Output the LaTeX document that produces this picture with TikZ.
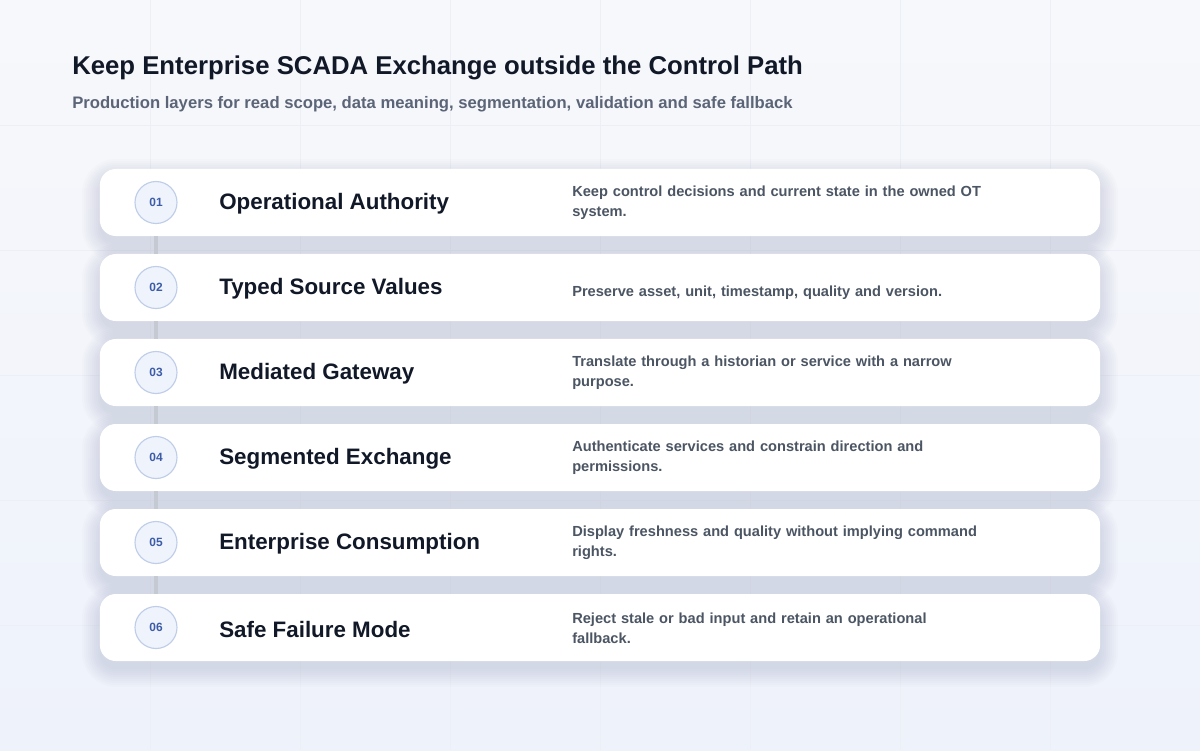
\documentclass[tikz,border=0pt]{standalone}
\usepackage{fontspec}
\setmainfont{Liberation Sans}
\usepackage{tikz}
\usetikzlibrary{calc}
\hyphenpenalty=10000
\exhyphenpenalty=10000

\definecolor{bgtop}{HTML}{F7F8FB}
\definecolor{bgbot}{HTML}{EEF2FB}
\definecolor{gridline}{HTML}{ECEFF5}
\definecolor{shadowcol}{HTML}{2A3450}
\definecolor{ink}{HTML}{111827}
\definecolor{subink}{HTML}{5B6577}
\definecolor{descink}{HTML}{4B5563}
\definecolor{numink}{HTML}{3D5CA8}
\definecolor{numfill}{HTML}{EEF3FC}
\definecolor{numline}{HTML}{BFCDE8}
\definecolor{linkgray}{HTML}{C5C9D1}

\begin{document}
\begin{tikzpicture}[x = 0.025cm, y = -0.025cm,
  layercard/.style = {rectangle, rounded corners = 0.4cm, fill = white,
    draw = none, minimum width = 25cm, minimum height = 1.675cm},
  numdot/.style = {circle, fill = numfill, draw = numline, line width = 0.8pt,
    minimum size = 1.05cm, inner sep = 0pt, text = numink,
    font = \fontsize{8.5}{10}\selectfont\bfseries},
  layertitle/.style = {anchor = west, inner sep = 0pt, text = ink,
    font = \fontsize{15.9}{18}\selectfont\bfseries},
  layertext/.style = {anchor = west, text = descink, text width = 10.4cm,
    align = left, inner sep = 0pt,
    font = \fontsize{10.4}{14.2}\selectfont\bfseries}]
\useasboundingbox (0, 0) rectangle (1200, 750);

% background and faint grid
\shade[top color = bgtop, bottom color = bgbot] (0, 0) rectangle (1200, 750);
\foreach \gx in {150, 300, ..., 1050}
  \draw[gridline, line width = 0.5pt] (\gx, 0) -- (\gx, 750);
\foreach \gy in {125, 250, ..., 625}
  \draw[gridline, line width = 0.5pt] (0, \gy) -- (1200, \gy);

% heading
\node[anchor = west, inner sep = 0pt, text = ink,
  font = \fontsize{18.3}{20}\selectfont\bfseries] (head) at (72, 68)
  {Keep Enterprise SCADA Exchange outside the Control Path};
\node[anchor = west, inner sep = 0pt, text = subink,
  font = \fontsize{11.85}{14}\selectfont\bfseries] (subhead) at (72, 104)
  {Production layers for read scope, data meaning, segmentation, validation and safe fallback};

% soft shadows under the cards
\foreach \i in {1, ..., 6}
  \foreach \k in {0, ..., 9}
    \fill[shadowcol, opacity = 0.011, rounded corners = 0.4cm + \k*0.05cm]
      (100 - 2*\k, 92 + 85*\i - 2*\k) rectangle (1100 + 2*\k, 159 + 85*\i + 2*\k);

% layers
\foreach \i/\dy/\name/\desc in {
  1/1/Operational Authority/Keep control decisions and current state in the owned OT system.,
  2/6/Typed Source Values/{Preserve asset, unit, timestamp, quality and version.},
  3/1/Mediated Gateway/Translate through a historian or service with a narrow purpose.,
  4/1/Segmented Exchange/Authenticate services and constrain direction and permissions.,
  5/1/Enterprise Consumption/Display freshness and quality without implying command rights.,
  6/1/Safe Failure Mode/Reject stale or bad input and retain an operational fallback.}
{
  \node[layercard] (card\i) at (600, 117.5 + 85*\i) {};
  \node[numdot] (num\i) at (156, 117.5 + 85*\i) {0\i};
  \node[layertitle] (title\i) at (219, 119 + 85*\i) {\name};
  \node[layertext] (desc\i) at (572, 117 + \dy + 85*\i) {\desc};
}

% links between the numbered dots
\foreach \i/\j in {1/2, 2/3, 3/4, 4/5, 5/6}
  \draw[linkgray, line width = 2.2pt] (card\i.south -| num\i) -- (card\j.north -| num\j);
\end{tikzpicture}
\end{document}
